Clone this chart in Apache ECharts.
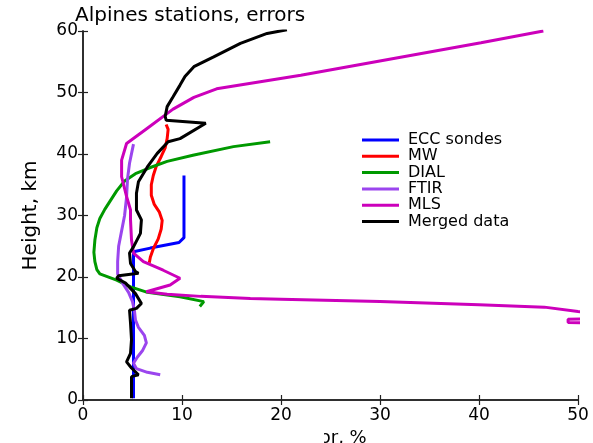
<!DOCTYPE html>
<html>
<head>
<meta charset="utf-8">
<script src="https://cdn.jsdelivr.net/npm/echarts@6/dist/echarts.min.js"></script>
<style>
  html, body { margin: 0; padding: 0; background: #fff; }
  #chart { width: 593px; height: 443px; }
</style>
</head>
<body>
<div id="chart"></div>
<script>
// Error profiles (error in %, height in km) for the Alpine stations
const seriesNames = ['ECC sondes', 'MW', 'DIAL', 'FTIR', 'MLS', 'Merged data'];
const seriesColors = ['#0000ff', '#ff0000', '#009900', '#9b45ee', '#cc00bb', '#000000'];

const xTicks = [0, 10, 20, 30, 40, 50];
const yTicks = [0, 10, 20, 30, 40, 50, 60];

const eccErr    = [5.1, 5.1, 5.1, 6.8, 9.7, 10.2, 10.2];
const eccHeight = [0.3, 12.0, 24.1, 24.7, 25.6, 26.4, 36.5];

const mwErr    = [6.7, 6.8, 7.1, 7.6, 7.9, 8.0, 7.7, 7.2, 6.9, 6.9, 7.1, 7.4, 7.9, 8.3, 8.5, 8.6, 8.4];
const mwHeight = [22.3, 23.2, 24.6, 26.2, 27.8, 29.2, 30.6, 31.8, 33.3, 35.0, 36.5, 38.0, 39.6, 41.0, 42.5, 44.0, 44.8];

const dialErr    = [11.8, 12.2, 9.8, 6.5, 4.8, 3.4, 1.7, 1.4, 1.2, 1.1, 1.2, 1.4, 1.7, 2.2, 2.8, 3.4, 4.2, 5.3, 6.8, 8.5, 11.1, 15.2, 18.9];
const dialHeight = [15.2, 16.0, 16.8, 17.5, 18.4, 19.5, 20.5, 21.2, 22.5, 24.0, 26.0, 28.0, 29.5, 31.0, 32.5, 34.0, 35.6, 36.8, 37.8, 38.8, 39.8, 41.2, 42.0];

const ftirErr    = [7.8, 6.5, 5.4, 5.1, 5.5, 6.0, 6.4, 6.2, 5.6, 5.3, 5.2, 5.0, 4.6, 4.0, 3.5, 3.5, 3.6, 3.9, 4.2, 4.4, 4.5, 4.7, 5.1];
const ftirHeight = [4.1, 4.5, 5.1, 6.0, 7.0, 8.0, 9.3, 10.5, 11.8, 13.0, 14.5, 16.0, 17.5, 19.0, 20.5, 22.5, 25.0, 27.5, 30.0, 33.0, 36.0, 38.5, 41.6];

const mlsErr    = [53, 51, 49.0, 49.0, 51, 53, 50.0, 46.6, 40.0, 30.0, 20.0, 16.9, 11.9, 8.5, 6.4, 8.8, 9.8, 8.1, 6.1, 5.1, 4.9, 4.8, 4.8, 4.4, 3.9, 3.9, 4.4, 6.5, 9.1, 11.2, 13.5, 22.0, 40.2, 46.5];
const mlsHeight = [12.0, 12.55, 12.6, 13.15, 13.2, 13.8, 14.4, 15.1, 15.5, 16.0, 16.4, 16.5, 16.85, 17.2, 17.6, 18.7, 19.8, 21.1, 22.5, 23.9, 26.0, 29.3, 30.9, 33.1, 36.3, 39.0, 41.7, 44.2, 47.3, 49.2, 50.6, 52.8, 58.1, 60.0];

const mergedErr    = [4.9, 4.9, 5.6, 4.9, 4.4, 4.8, 4.9, 4.8, 4.7, 5.4, 5.9, 5.3, 4.3, 3.4, 3.6, 5.6, 5.3, 4.8, 4.7, 5.1, 5.8, 5.9, 5.4, 5.4, 5.6, 6.5, 7.5, 8.6, 9.8, 12.4, 8.4, 8.3, 8.5, 9.1, 9.8, 10.3, 11.2, 13.2, 15.9, 18.6, 20.6];
const mergedHeight = [0.3, 3.8, 4.1, 5.2, 6.2, 7.6, 9.8, 12.5, 14.6, 14.9, 15.7, 17.3, 19.0, 19.8, 20.2, 20.6, 20.9, 22.2, 23.9, 24.9, 27.1, 29.3, 30.9, 33.6, 35.5, 37.9, 40.1, 42.0, 42.5, 45.0, 45.5, 46.1, 47.7, 49.3, 51.2, 52.6, 54.2, 55.8, 58.0, 59.6, 60.2];

const profiles = [
  [eccErr, eccHeight],
  [mwErr, mwHeight],
  [dialErr, dialHeight],
  [ftirErr, ftirHeight],
  [mlsErr, mlsHeight],
  [mergedErr, mergedHeight]
];

const FONT = 'DejaVu Sans';
const chart = echarts.init(document.getElementById('chart'), null, { renderer: 'canvas' });

const frameAxisLine = { show: true, lineStyle: { color: '#222', width: 1.5 } };
const innerTick = { show: true, inside: true, length: 5, lineStyle: { color: '#222', width: 1.2 } };

const series = profiles.map(([errs, heights], i) => ({
  name: seriesNames[i],
  type: 'line',
  xAxisIndex: 0,
  yAxisIndex: 0,
  data: errs.map((e, k) => [e, heights[k]]),
  symbol: 'none',
  clip: true,
  z: i === 5 ? 5 : 3,
  lineStyle: { color: seriesColors[i], width: 3 },
  itemStyle: { color: seriesColors[i] }
}));

chart.setOption({
  animation: false,
  backgroundColor: '#ffffff',
  title: {
    text: 'Alpines stations, errors',
    left: 70,
    top: 1,
    textStyle: { fontFamily: FONT, fontSize: 20, fontWeight: 'normal', color: '#000' }
  },
  legend: {
    data: seriesNames,
    orient: 'vertical',
    left: 357,
    top: 127,
    icon: 'rect',
    itemWidth: 37,
    itemHeight: 3,
    itemGap: 0.3,
    textStyle: { fontFamily: FONT, fontSize: 16, color: '#000', lineHeight: 16, padding: [0, 0, 0, 4] }
  },
  grid: { left: 83, right: 15, top: 31, bottom: 43, containLabel: false, outerBoundsMode: 'none' },
  xAxis: [
    {
      type: 'value', min: 0, max: 50, interval: 10, position: 'bottom',
      name: 'Error, %', nameLocation: 'middle', nameGap: 26,
      nameTextStyle: { fontFamily: FONT, fontSize: 18, color: '#000' },
      axisLine: frameAxisLine, axisTick: innerTick,
      axisLabel: { fontFamily: FONT, fontSize: 17, color: '#000', margin: 7,
        formatter: v => xTicks.includes(v) ? String(v) : '' },
      splitLine: { show: false }
    },
    {
      type: 'value', min: 0, max: 50, interval: 10, position: 'top',
      axisLine: frameAxisLine, axisTick: innerTick,
      axisLabel: { show: false }, splitLine: { show: false }
    }
  ],
  yAxis: [
    {
      type: 'value', min: 0, max: 60, interval: 10, position: 'left',
      name: 'Height, km', nameLocation: 'middle', nameGap: 42, nameRotate: 90,
      nameTextStyle: { fontFamily: FONT, fontSize: 20, color: '#000' },
      axisLine: frameAxisLine, axisTick: innerTick,
      axisLabel: { fontFamily: FONT, fontSize: 17, color: '#000', margin: 5,
        formatter: v => yTicks.includes(v) ? String(v) : '' },
      splitLine: { show: false }
    },
    {
      type: 'value', min: 0, max: 60, interval: 10, position: 'right',
      axisLine: frameAxisLine, axisTick: innerTick,
      axisLabel: { show: false }, splitLine: { show: false }
    }
  ],
  graphic: [
    {
      type: 'rect', left: 180, top: 421, z: 100,
      shape: { width: 144, height: 22 },
      style: { fill: '#ffffff' }
    }
  ],
  series: series
});
</script>
</body>
</html>
